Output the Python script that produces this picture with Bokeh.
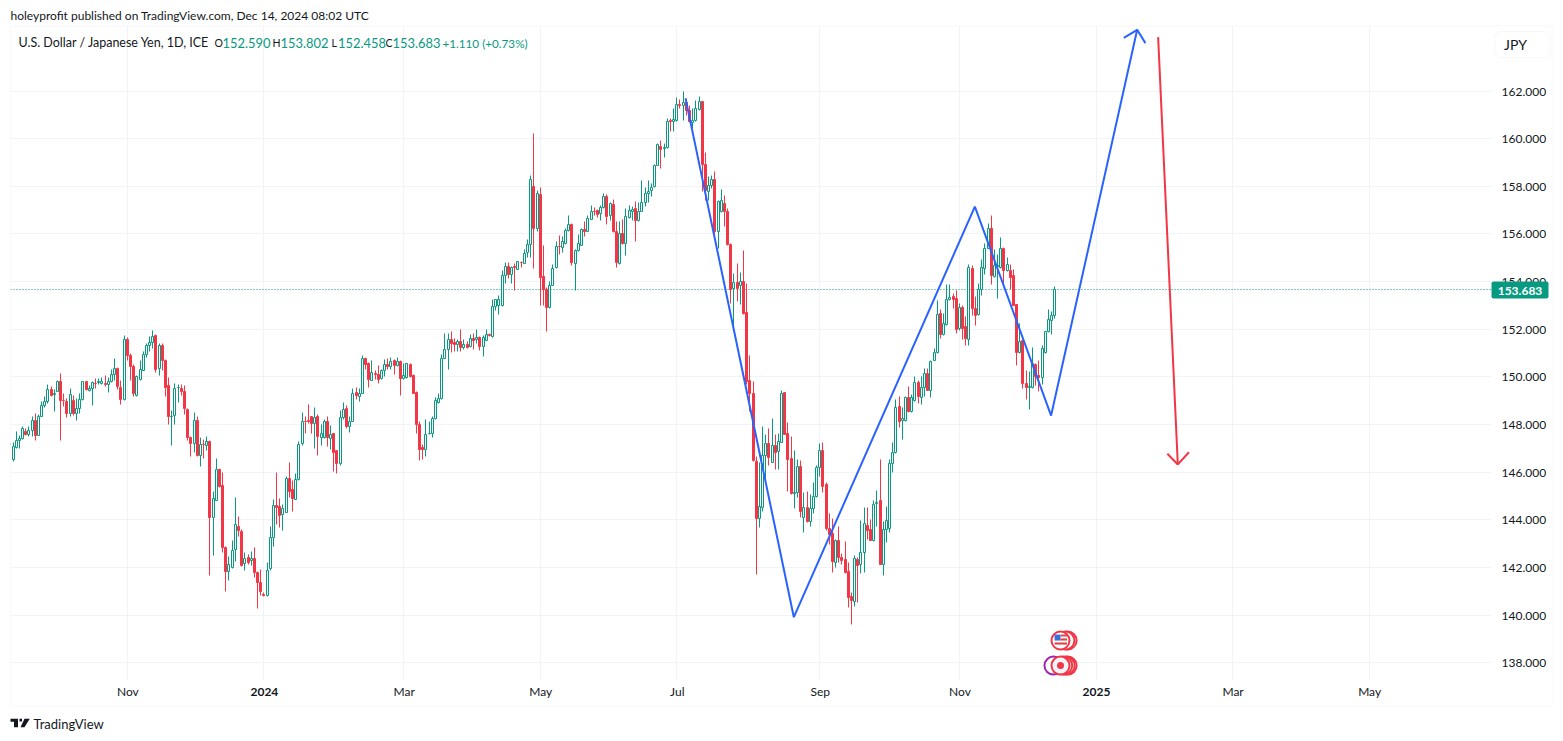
import math
from bokeh.plotting import figure
from bokeh.embed import file_html
from bokeh.resources import INLINE
from bokeh.models import (ColumnDataSource, Range1d, FixedTicker, NumeralTickFormatter,
                          Label, BoxAnnotation, PolyAnnotation)

# ---------- data ----------
bar_first = -1
opens = [147.20,
146.54,147.06,147.34,147.42,147.71,147.57,147.76,148.18,147.55,148.35,
148.79,148.96,149.48,149.25,149.39,149.81,149.03,148.96,148.46,149.03,
148.47,148.68,149.06,149.79,149.42,149.51,149.74,149.76,149.73,149.74,
149.69,149.81,150.12,150.36,149.56,149.06,151.58,150.91,150.42,149.23,
149.90,150.29,150.95,151.34,151.45,151.72,150.35,151.33,150.70,149.65,
148.33,148.37,149.55,149.52,149.41,148.64,147.46,147.20,148.18,146.69,
147.17,147.13,147.29,144.10,144.82,146.12,145.45,142.86,141.82,142.00,
142.76,143.72,143.53,142.17,142.41,142.28,142.38,141.79,141.39,140.88,
140.83,141.95,143.26,144.61,144.55,144.21,144.33,145.73,145.27,144.85,
145.68,147.19,148.14,148.16,148.33,148.05,148.33,147.47,147.47,148.14,
147.42,147.61,146.90,146.37,148.31,148.69,147.92,148.14,149.33,149.18,
149.32,150.76,150.55,149.87,150.16,150.09,149.92,150.29,150.54,150.44,
150.68,150.47,150.66,149.94,149.98,150.51,150.05,149.36,148.02,147.02,
146.97,147.61,147.64,148.26,148.93,149.10,150.79,151.17,151.59,151.43,
151.36,151.50,151.24,151.38,151.28,151.63,151.59,151.64,151.28,151.55,
151.77,151.70,152.97,153.00,153.00,154.25,154.65,154.29,154.64,154.51,
154.82,154.76,155.21,155.56,157.99,156.23,157.66,154.21,153.67,152.90,
153.85,154.58,155.47,155.42,155.59,156.15,156.40,154.76,155.29,155.53,
156.19,156.10,156.62,156.96,156.99,156.86,157.10,157.57,156.76,157.24,
156.12,154.76,156.02,155.60,156.69,156.96,157.07,156.57,156.96,157.32,
157.70,157.83,157.99,158.89,159.66,159.60,159.63,160.75,160.71,160.77,
161.44,161.38,161.52,161.19,160.68,160.75,161.24,161.58,158.92,157.80,
158.02,158.29,156.09,156.93,157.29,156.93,155.56,153.71,153.96,153.82,
154.00,152.70,149.86,149.31,146.44,144.05,144.51,146.72,147.20,146.43,
147.14,146.86,147.27,149.34,147.62,146.57,145.13,145.17,146.23,144.12,
144.51,143.95,144.47,144.97,146.19,146.90,145.48,143.63,143.43,142.20,
143.12,142.41,142.34,141.84,140.77,140.58,142.34,142.13,142.62,143.77,
143.60,143.15,144.69,144.80,142.12,143.60,143.63,146.36,146.82,148.75,
148.16,148.19,149.13,148.53,149.03,149.76,149.14,149.56,150.15,149.42,
150.71,151.02,152.67,151.79,152.21,153.23,153.37,153.31,152.03,152.92,
152.10,151.58,154.56,152.89,152.61,153.68,154.56,155.40,156.24,154.21,
154.63,154.59,155.40,154.46,154.46,154.24,153.02,151.02,151.51,149.74,
149.56,149.56,150.54,150.08,149.97,151.02,151.91,152.36,152.590]

highs = [147.81,
147.27,147.73,147.55,147.92,147.84,147.91,148.36,148.47,148.44,148.99,
149.18,149.70,149.59,149.48,149.87,150.16,149.31,149.10,149.52,149.24,
149.10,149.31,149.83,149.83,149.66,149.81,149.94,149.93,149.98,150.08,
149.98,150.33,150.79,150.40,149.87,151.72,151.66,150.99,150.54,150.08,
150.71,151.05,151.41,151.69,151.93,151.80,151.41,151.41,150.74,149.98,
148.61,149.73,149.69,149.69,149.66,148.68,147.49,148.51,148.36,147.46,
147.38,147.49,147.35,145.19,146.58,146.17,146.01,142.90,142.48,143.15,
144.96,144.13,143.60,142.63,142.56,142.66,142.86,141.82,141.93,140.94,
142.23,143.74,144.87,146.01,144.91,144.65,145.82,146.40,145.66,145.93,
147.29,148.52,148.34,148.83,148.34,148.70,148.41,147.99,148.20,148.35,
147.95,147.61,146.90,148.58,148.93,148.79,148.34,149.50,149.57,149.50,
150.89,150.82,150.59,150.69,150.27,150.47,150.30,150.72,150.79,150.83,
150.72,150.83,150.69,150.58,150.58,150.55,150.09,149.38,148.13,147.15,
148.20,148.13,148.34,149.15,149.32,150.96,151.84,151.84,151.90,151.63,
151.59,151.98,151.56,151.48,151.77,151.84,151.98,151.70,151.73,151.98,
151.84,153.27,153.27,153.41,154.46,154.81,154.81,154.64,154.78,154.86,
154.86,155.36,155.77,158.44,160.23,157.83,157.97,155.50,153.74,153.99,
154.73,155.70,155.95,155.88,156.23,156.79,156.44,155.33,155.99,156.23,
156.54,156.79,157.21,157.13,157.01,157.21,157.71,157.67,157.32,157.45,
156.51,156.51,156.61,157.07,157.21,157.15,157.38,157.32,158.26,157.97,
158.26,158.13,158.92,159.80,159.94,159.80,160.86,160.85,161.27,161.73,
161.66,161.97,161.69,161.41,161.27,161.62,161.79,161.58,159.42,158.43,
158.47,158.64,157.42,157.87,157.63,157.07,155.60,154.35,154.77,154.38,
155.29,153.93,150.91,149.82,146.68,146.40,147.93,147.59,147.83,148.26,
147.58,147.62,149.44,149.34,148.08,147.52,146.92,146.54,146.51,145.17,
145.20,145.07,145.56,146.29,147.20,147.27,145.56,144.27,144.05,143.20,
143.74,142.59,143.08,142.20,140.94,142.51,142.41,143.99,144.52,144.51,
144.02,144.83,145.22,146.54,143.95,144.58,146.54,147.27,149.06,149.17,
148.71,149.20,149.62,149.27,150.03,149.87,150.01,150.36,150.36,150.68,
151.20,153.19,152.85,152.67,153.90,153.86,153.51,153.62,153.09,153.00,
152.53,154.70,154.67,153.37,153.93,154.94,155.61,156.42,156.76,155.36,
155.12,155.86,155.43,155.02,154.70,154.49,153.06,152.25,151.55,150.29,
150.25,151.23,150.57,150.71,151.34,151.91,152.85,152.74,153.802]

lows = [146.51,
146.44,147.01,147.01,147.39,147.55,147.52,147.49,147.32,147.53,148.33,
148.72,148.89,149.17,148.53,149.37,147.32,148.75,148.29,148.36,148.40,
148.16,148.47,149.02,149.45,149.38,148.79,149.51,149.70,149.69,149.59,
149.34,149.76,149.87,149.47,148.83,149.03,150.68,149.87,149.20,149.20,
149.87,150.26,150.82,151.06,151.20,150.18,150.05,150.29,149.20,148.02,
147.14,148.02,148.92,149.21,148.44,147.32,146.68,146.85,146.68,146.23,
146.57,146.90,141.65,142.52,144.80,145.36,142.65,140.98,141.44,141.97,
142.27,143.29,142.06,141.89,142.14,142.10,141.57,140.28,140.81,140.80,
140.80,141.86,142.87,143.82,143.68,143.56,144.33,144.96,144.37,144.85,
145.66,147.14,147.64,148.06,147.64,146.99,146.69,147.11,147.43,147.08,
146.97,146.03,145.93,146.28,148.20,147.82,147.67,148.12,149.04,148.97,
149.29,150.33,149.56,149.85,149.88,149.73,149.89,150.02,150.30,150.33,
150.09,150.44,149.21,149.91,149.95,149.98,149.29,147.61,146.49,146.52,
146.66,147.60,147.46,148.23,148.90,149.07,150.76,150.31,151.03,151.07,
151.08,151.06,151.17,151.20,151.25,151.17,151.42,151.11,150.86,151.53,
151.70,151.67,152.79,152.61,152.96,153.91,154.15,153.94,153.63,154.50,
154.58,154.75,155.00,155.00,154.54,156.09,153.01,153.01,151.89,152.87,
153.82,154.55,155.14,155.22,155.56,156.09,154.69,153.61,155.26,155.50,
155.88,156.09,156.59,156.76,156.68,156.58,157.07,156.38,156.58,156.06,
154.58,154.73,155.57,155.11,156.66,156.58,155.70,156.54,156.93,157.14,
157.32,157.59,157.97,158.86,158.76,159.20,159.59,160.29,160.29,160.74,
161.27,160.78,160.99,160.68,160.36,160.71,161.20,157.77,157.42,157.42,
157.90,156.02,155.39,156.90,156.30,155.53,153.08,152.07,153.15,153.05,
152.63,149.69,148.57,146.47,141.71,143.67,144.37,145.67,146.29,146.40,
146.12,146.12,147.24,147.58,145.21,145.07,144.48,144.93,144.12,143.49,
143.88,143.74,144.27,144.93,145.84,145.17,143.57,142.97,141.81,142.00,
142.23,142.13,141.75,140.34,139.62,140.38,140.52,141.75,141.78,143.18,
143.14,143.11,143.74,142.12,141.68,143.04,143.49,145.98,146.79,147.90,
147.38,148.15,148.50,148.50,148.99,148.89,148.86,149.17,149.42,149.13,
150.68,150.99,151.62,151.76,152.18,153.20,152.88,151.83,151.97,151.58,
151.34,151.31,152.60,152.14,152.59,153.40,154.32,155.37,153.86,154.18,
153.29,154.56,153.82,154.43,153.65,152.98,150.47,150.99,149.52,149.07,
148.65,149.52,149.66,149.38,149.70,150.99,151.87,151.80,152.458]

closes = [147.15,
147.10,147.34,147.42,147.84,147.57,147.76,148.18,147.53,148.33,148.79,
148.96,149.48,149.24,149.30,149.81,149.02,149.00,148.46,149.27,148.48,
148.68,149.06,149.79,149.49,149.51,149.76,149.72,149.79,149.81,149.69,
149.81,150.11,150.36,149.59,149.06,151.58,150.91,150.43,149.30,150.04,
150.30,150.95,151.34,151.45,151.69,150.30,151.33,150.68,149.56,148.33,
148.36,149.52,149.56,149.38,148.67,147.46,147.20,148.18,146.72,147.17,
147.15,147.29,144.10,144.90,146.12,145.39,142.84,141.82,142.13,142.72,
143.81,143.54,142.07,142.38,142.23,142.38,141.79,141.36,140.98,140.85,
141.88,143.26,144.61,144.51,144.20,144.46,145.73,145.21,144.88,145.68,
147.15,148.14,148.12,148.13,148.05,148.31,147.50,147.63,148.14,147.46,
147.60,146.84,146.37,148.31,148.65,147.92,148.14,149.32,149.22,149.32,
150.79,150.54,149.89,150.19,150.10,149.91,150.29,150.54,150.43,150.66,
150.48,150.66,149.94,150.08,150.55,150.01,149.31,148.02,146.96,146.95,
147.60,147.64,148.27,149.03,149.10,150.79,151.17,151.59,151.41,151.36,
151.50,151.24,151.36,151.25,151.63,151.52,151.64,151.28,151.64,151.78,
151.74,152.97,153.24,153.24,154.25,154.65,154.32,154.60,154.58,154.84,
154.79,155.18,155.56,158.29,156.23,157.70,154.19,153.67,152.90,153.85,
154.55,155.47,155.46,155.67,156.15,156.40,154.79,155.31,155.60,156.19,
156.09,156.65,156.96,156.93,156.82,157.10,157.57,156.73,157.29,156.09,
154.79,156.02,155.60,156.73,156.99,157.04,156.55,156.96,157.32,157.70,
157.78,157.95,158.89,159.76,159.55,159.63,160.72,160.74,160.79,161.44,
161.41,161.52,161.17,160.71,160.75,161.27,161.58,158.92,157.81,158.05,
158.29,156.09,157.35,157.41,156.93,155.56,153.67,153.96,153.71,154.00,
152.66,149.83,149.31,146.51,144.08,144.55,146.72,147.20,146.64,147.14,
146.85,147.28,149.30,147.60,146.55,145.11,145.17,146.23,144.37,144.51,
143.95,144.47,144.97,146.19,146.90,145.42,143.63,143.39,142.27,143.12,
142.42,142.28,141.81,140.76,140.60,142.37,142.10,142.62,143.84,143.57,
143.15,144.66,144.75,142.14,143.59,143.99,146.36,146.81,148.71,148.12,
148.26,149.13,148.53,149.13,149.76,149.17,149.56,150.15,149.45,150.65,
151.02,152.63,151.80,152.25,153.23,153.34,153.23,152.01,152.92,152.05,
151.61,154.60,152.88,152.57,153.69,154.59,155.40,156.24,154.25,154.66,
154.66,155.40,154.46,154.73,154.17,153.01,151.02,151.49,149.72,149.55,
149.59,150.57,150.04,149.97,151.20,151.91,152.42,152.59,153.683]

price_ticks = [138, 140, 142, 144, 146, 148, 150, 152, 154, 156, 158, 160, 162]
time_ticks = [36, 79, 123, 166, 209, 254, 298, 341, 384, 427]
time_labels = ["Nov", "2024", "Mar", "May", "Jul", "Sep", "Nov", "2025", "Mar", "May"]
bold_labels = ["2024", "2025"]
last_price = 153.683

blue_bars = [211.6, 245.7, 302.7, 326.7, 353.8]
blue_prices = [161.71, 139.94, 157.17, 148.40, 164.59]
blue_head_bars = [349.6, 353.8, 356.4]
blue_head_prices = [164.25, 164.59, 164.03]
red_bars = [360.4, 366.6]
red_prices = [164.28, 146.35]
red_head_bars = [363.3, 366.6, 370.1]
red_head_prices = [146.80, 146.35, 146.86]

title_text = "holeyprofit published on TradingView.com, Dec 14, 2024 08:02 UTC"
symbol_text = "U.S. Dollar / Japanese Yen, 1D, ICE"
ohlc_letters = ["O", "H", "L", "C"]
ohlc_values = ["152.590", "153.802", "152.458", "153.683"]
change_text = "+1.110 (+0.73%)"

# ---------- style ----------
GREEN = "#089981"
RED = "#F23645"
BLUE = "#2962FF"
INK = "#131722"
GRID = "#F0F3FA"
FONT = "Lato"

W, H = 1560, 738
x0, spacing = 13.0, 3.176
y162, per_unit = 91.0, 23.83
frame_l, frame_r, frame_t, frame_b = 10, 1491, 26, 680

def bar_at(px):
    return (px - x0) / spacing

def price_at(py):
    return 162 - (py - y162) / per_unit

def crisp_bar(i):
    """Bar position moved onto a whole device pixel, as the source chart draws it."""
    return bar_at(math.floor(x0 + spacing * i))

def crisp_price(v):
    """Price position moved onto a whole device pixel, as the source chart draws it."""
    return price_at(math.floor(y162 + (162 - v) * per_unit))

p = figure(width=W, height=H, output_backend="svg", toolbar_location=None,
           x_range=Range1d(bar_at(0), bar_at(W)),
           y_range=Range1d(price_at(H), price_at(0)),
           y_axis_location="right",
           min_border_left=0, min_border_right=0, min_border_top=0, min_border_bottom=0)
p.outline_line_color = None
p.background_fill_color = "white"
p.border_fill_color = "white"
p.grid.visible = False

p.yaxis.ticker = FixedTicker(ticks=price_ticks)
p.yaxis.formatter = NumeralTickFormatter(format="0.000")
p.yaxis.fixed_location = bar_at(frame_r)
p.xaxis.ticker = FixedTicker(ticks=time_ticks)
p.xaxis.fixed_location = price_at(frame_b)
p.xaxis.major_label_overrides = {t: ("" if l in bold_labels else l) for t, l in zip(time_ticks, time_labels)}
for ax in (p.xaxis, p.yaxis):
    ax.axis_line_color = None
    ax.major_tick_line_color = None
    ax.minor_tick_line_color = None
    ax.major_tick_out = 0
    ax.major_tick_in = 0
    ax.major_label_text_font = FONT
    ax.major_label_text_font_size = "12px"
    ax.major_label_text_color = INK
p.yaxis.major_label_standoff = 10
p.xaxis.major_label_standoff = 3

# grid, held inside the chart pane
grid_y = [crisp_price(t) for t in price_ticks]
grid_x = [crisp_bar(t) for t in time_ticks]
p.segment([bar_at(frame_l)] * len(grid_y), grid_y, [bar_at(frame_r)] * len(grid_y), grid_y,
          line_color=GRID, line_width=1, level="underlay")
p.segment(grid_x, [price_at(frame_t)] * len(grid_x), grid_x, [price_at(frame_b)] * len(grid_x),
          line_color=GRID, line_width=1, level="underlay")

bars = list(range(bar_first, bar_first + len(opens)))
up = [c >= o for o, c in zip(opens, closes)]
src = ColumnDataSource(dict(
    x=[crisp_bar(b) for b in bars],
    high=[crisp_price(v) for v in highs],
    low=[crisp_price(v) for v in lows],
    top=[crisp_price(max(o, c)) for o, c in zip(opens, closes)],
    bottom=[crisp_price(min(o, c)) for o, c in zip(opens, closes)],
    line=[GREEN if u else RED for u in up],
    fill=["white" if u else RED for u in up],
))

def canvas_box(left, right, top, bottom, **kw):
    return BoxAnnotation(left=left, right=right, top=top, bottom=bottom,
                         left_units="canvas", right_units="canvas",
                         top_units="canvas", bottom_units="canvas", **kw)

def txt(t, x, y, color=INK, size="12px", style="normal", align="left", level="annotation"):
    p.add_layout(Label(x=x, y=y, x_units="canvas", y_units="canvas", text=t,
                       text_color=color, text_font=FONT, text_font_size=size,
                       text_font_style=style, text_align=align, text_baseline="middle",
                       level=level))

p.line([bar_at(frame_l), bar_at(frame_r)], [crisp_price(last_price)] * 2, line_color=GREEN,
       line_dash=[1, 2], line_width=1)

p.segment("x", "high", "x", "low", source=src, line_color="line", line_width=1)
p.vbar("x", top="top", bottom="bottom", width=2 / spacing, source=src,
       fill_color="fill", line_color="line", line_width=1)

p.line(blue_bars, blue_prices, line_color=BLUE, line_width=2)
p.line(blue_head_bars, blue_head_prices, line_color=BLUE, line_width=2)
p.line(red_bars, red_prices, line_color=RED, line_width=2)
p.line(red_head_bars, red_head_prices, line_color=RED, line_width=2)

# event markers (bar index, price)
p.scatter([331.9, 331.2], [138.96, 138.96], size=18, fill_color="white",
          line_color=RED, line_width=2)
p.scatter([329.66], [138.96], size=18, fill_color="white", line_color=RED, line_width=2)
p.quad(left=[329.66, 329.66, 327.8], right=[331.7, 331.7, 331.7],
       top=[139.21, 139.05, 138.88], bottom=[139.13, 138.96, 138.79],
       fill_color="#E04646", line_color=None)
p.quad(left=[327.8], right=[329.66], top=[139.21], bottom=[138.96],
       fill_color="#3C6ED8", line_color=None)
p.scatter([327.45], [137.91], size=18, fill_color="white", line_color="#9C27B0", line_width=2)
p.scatter([331.9, 331.3, 330.5], [137.91] * 3, size=18, fill_color="white",
          line_color=RED, line_width=2)
p.scatter([329.66], [137.91], size=18, fill_color=GRID, line_color=RED, line_width=2)
p.scatter([329.66], [137.91], size=7, fill_color=RED, line_color=None)

# bold year labels on the time scale
for t, l in zip(time_ticks, time_labels):
    if l in bold_labels:
        p.add_layout(Label(x=t, y=691, y_units="canvas", text=l, text_color=INK,
                           text_font=FONT, text_font_size="12px", text_font_style="bold",
                           text_align="center", text_baseline="middle"))

# the pane's left edge hides whatever falls to its left, then the outer border
p.add_layout(canvas_box(0, 10, 26, 705, fill_color="white", fill_alpha=1, line_color=None, level="overlay"))
p.add_layout(canvas_box(10, 1552, 25.5, 705.5, fill_color=None, line_color=GRID,
                        line_width=2, level="overlay"))

# header
txt(title_text, 10, 15)
txt(symbol_text, 18, 42, size="12.5px")
for letter, value, lx, vx in zip(ohlc_letters, ohlc_values, [214, 272, 331, 385], [222, 280, 337.5, 392]):
    txt(letter, lx, 42, size="10.5px")
    txt(value, vx, 42, color=GREEN, size="12.9px")
txt(change_text, 442, 42, color=GREEN, size="11.7px")

# currency button
p.add_layout(canvas_box(1494.5, 1549.5, 31, 57, fill_color="white", fill_alpha=1,
                        line_color="#E0E3EB", line_width=1, border_radius=6))
txt("JPY", 1515, 44, size="14px", align="center")

# last-price tag
p.add_layout(canvas_box(1491, 1548, 281, 298, fill_color=GREEN, fill_alpha=1,
                        line_color=GREEN, line_width=0, border_radius=2, level="overlay"))
txt(f"{last_price:.3f}", 1519.5, 290, color="white", style="bold", align="center", level="overlay")

# logo
for xs, ys in [([10, 17.5, 17.5, 13.5, 13.5, 10], [718.3, 718.3, 726.7, 726.7, 721.3, 721.3]),
               ([24, 29.3, 24, 20], [718.3, 718.3, 726.7, 726.7]),
               ([19, 21.5, 21.5, 19], [718.3, 718.3, 721, 721])]:
    p.add_layout(PolyAnnotation(xs=xs, ys=ys, xs_units="canvas", ys_units="canvas",
                                fill_color=INK, fill_alpha=1, line_color=None))
txt("TradingView", 33, 723, size="13px")

open("out.html", "w").write(file_html(p, INLINE))
